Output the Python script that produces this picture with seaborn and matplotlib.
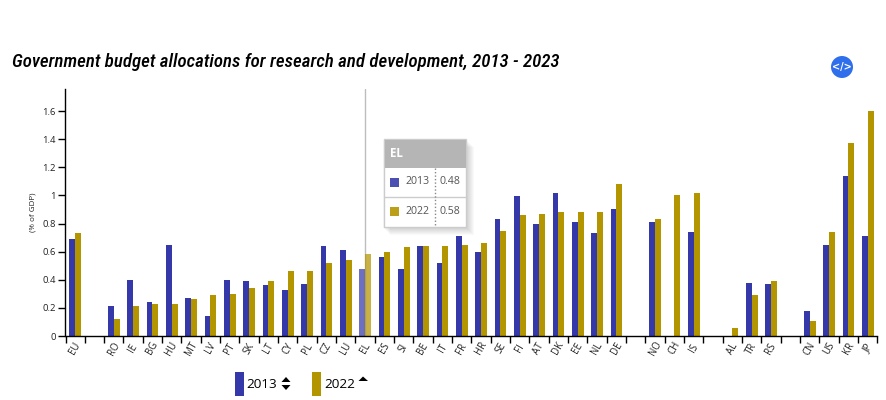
import numpy as np
import pandas as pd
import matplotlib
matplotlib.use("Agg")
import matplotlib.pyplot as plt
from matplotlib.patches import Rectangle, Circle, Polygon
from matplotlib.lines import Line2D
from matplotlib.transforms import Affine2D
import seaborn as sns

nan = float("nan")
countries = ["EU", " ", "RO", "IE", "BG", "HU", "MT", "LV", "PT", "SK", "LT", "CY", "PL", "CZ", "LU", "EL",
             "ES", "SI", "BE", "IT", "FR", "HR", "SE", "FI", "AT", "DK", "EE", "NL", "DE", "  ", "NO", "CH",
             "IS", "   ", "AL", "TR", "RS", "    ", "CN", "US", "KR", "JP"]
values_2013 = [0.69, nan, 0.21, 0.40, 0.24, 0.65, 0.27, 0.14, 0.40, 0.39, 0.36, 0.33, 0.37, 0.64, 0.61, 0.48,
               0.56, 0.48, 0.64, 0.52, 0.71, 0.60, 0.83, 0.995, 0.80, 1.02, 0.81, 0.73, 0.90, nan, 0.81, nan,
               0.74, nan, nan, 0.38, 0.37, nan, 0.18, 0.65, 1.14, 0.71]
values_2022 = [0.73, nan, 0.12, 0.21, 0.23, 0.23, 0.26, 0.29, 0.30, 0.34, 0.39, 0.46, 0.46, 0.52, 0.54, 0.58,
               0.60, 0.63, 0.64, 0.64, 0.65, 0.66, 0.75, 0.86, 0.87, 0.88, 0.88, 0.88, 1.08, nan, 0.83, 1.00,
               1.02, nan, 0.06, 0.29, 0.39, nan, 0.11, 0.74, 1.37, 1.60]
years = ["2013", "2022"]
y_ticks = [0, 0.2, 0.4, 0.6, 0.8, 1, 1.2, 1.4, 1.6]
BLUE, GOLD = "#3538a8", "#b39500"
W, H = 887, 400

sns.set_style("white")
plt.rcParams["font.family"] = ["Open Sans", "DejaVu Sans"]

df = pd.DataFrame({"geo": countries, "2013": values_2013, "2022": values_2022}).melt(
    id_vars="geo", var_name="year", value_name="value")

fig = plt.figure(figsize=(W / 100, H / 100), dpi=100, facecolor="white")
ax = fig.add_axes([65.5 / W, 1 - 336 / H, (877.5 - 65.5) / W, (336 - 89) / H])
sns.barplot(data=df, x="geo", y="value", hue="year", order=countries, hue_order=years,
            palette=[BLUE, GOLD], width=0.62, gap=0, saturation=1, errorbar=None, legend=False,
            linewidth=0, ax=ax)
ax.set_xlim(-0.5, len(countries) - 0.5)
ax.set_ylim(0, 247 / 140.6)
ax.set_xlabel("")
ax.set_ylabel("")

# Highlighted (hovered) category
el = countries.index("EL")
for bar in ax.patches:
    if abs(bar.get_x() + bar.get_width() / 2 - el) < 0.5:
        bar.set_alpha(0.72)
ax.axvline(el, color="#bdbdbd", lw=1, zorder=0.5)

for s in ("top", "right"):
    ax.spines[s].set_visible(False)
for s in ("left", "bottom"):
    ax.spines[s].set_color("black")
    ax.spines[s].set_linewidth(1)

ax.set_yticks(y_ticks)
ax.set_yticklabels([str(v) for v in y_ticks], fontsize=6.8, color="#222222")
ax.tick_params(axis="y", left=True, length=5, width=1, color="black", pad=2)

edges = np.arange(len(countries) + 1) - 0.5
centres = np.arange(len(countries))
ax.set_xticks(edges)
ax.set_xticklabels([])
ax.set_xticks(centres, minor=True)
ax.set_xticklabels(countries, minor=True, rotation=60, ha="center", va="center",
                   fontsize=6.9, color="#222222", rotation_mode="anchor")
ax.tick_params(axis="x", which="major", bottom=True, length=5, width=1, color="black")
ax.tick_params(axis="x", which="minor", bottom=False, length=0, pad=9)

# Pixel-based overlay transform (origin top-left)
T = Affine2D().scale(1, -1).translate(0, H)


def rect(x0, y0, x1, y1, **kw):
    fig.add_artist(Rectangle((x0, y0), x1 - x0, y1 - y0, transform=T, **kw))


def label(x, y, s, **kw):
    return fig.text(x, y, s, transform=T, **kw)


title = label(12, 62, "Government budget allocations for research and development, 2013 - 2023",
              family="Roboto Condensed", style="italic", weight=500, fontsize=14, color="black",
              va="center", ha="left")
fig.canvas.draw()
title.set_fontsize(14 * 551 / title.get_window_extent().width)
label(33, 212, "(% of GDP)", rotation=90, fontsize=5.8, color="#222222", va="center", ha="center")

# Export button
fig.add_artist(Circle((842, 67), 11, transform=T, color="#2f6fec", lw=0))
label(842, 67, "</>", color="white", fontsize=7, weight="bold", ha="center", va="center", family="DejaVu Sans")

# Legend
rect(235, 372, 244, 396, facecolor=BLUE, lw=0)
label(246.5, 384.5, years[0], fontsize=9.7, color="black", va="center", ha="left")
rect(312, 372, 321, 396, facecolor=GOLD, lw=0)
label(324, 384.5, years[1], fontsize=9.7, color="black", va="center", ha="left")
for pts in ([(281.5, 382), (290.5, 382), (286, 377)], [(281.5, 385), (290.5, 385), (286, 390)],
            [(358.5, 381), (368, 381), (363, 376.5)]):
    fig.add_artist(Polygon(pts, closed=True, transform=T, facecolor="black", lw=0))

# Tooltip
for i in range(8):
    o = 1 + i
    rect(384 - 2 + o, 139 + o, 466 + o, 227 + o, facecolor="black", alpha=0.022, lw=0)
rect(384, 139, 466, 227, facecolor="white", edgecolor="#cccccc", lw=1)
rect(384.5, 139.5, 465.5, 168, facecolor="#b5b5b5", lw=0)
fig.add_artist(Line2D([384, 466], [197, 197], transform=T, color="#cccccc", lw=1))
fig.add_artist(Line2D([435, 435], [168, 227], transform=T, color="#888888", lw=1, ls=(0, (1, 1.5))))
label(390, 153.5, "EL", color="white", weight="bold", fontsize=8.4, va="center", ha="left")
rows = ((182, years[0], "0.48", "#4c4fb2"), (211.5, years[1], "0.58", "#bb9f18"))
for yc, yr, val, c in rows:
    rect(390, yc - 4.5, 399, yc + 4.5, facecolor=c, lw=0)
    label(405, yc, yr, color="#555555", fontsize=7.6, va="center", ha="left")
    label(440, yc, val, color="#555555", fontsize=7.6, va="center", ha="left")

fig.savefig("out.png", dpi=100)
